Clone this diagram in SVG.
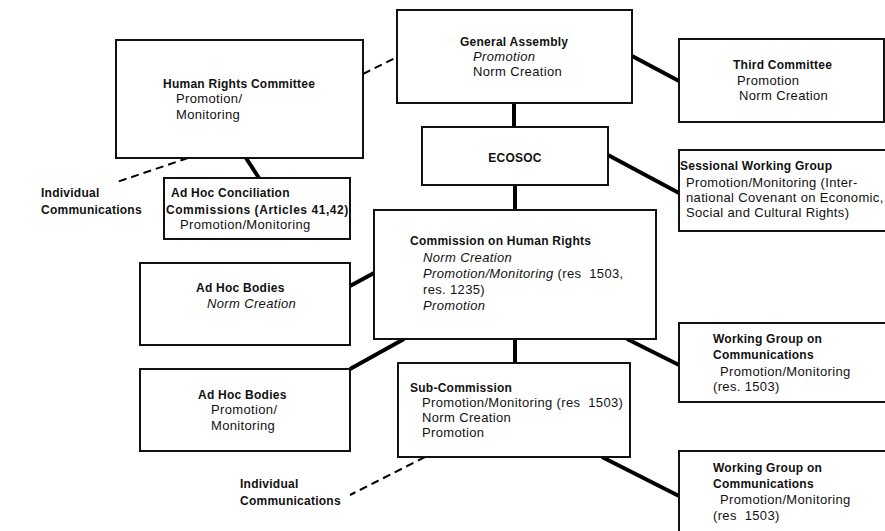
<svg xmlns="http://www.w3.org/2000/svg" width="885" height="531" viewBox="0 0 885 531">
<style>
.box{fill:#fff;stroke:#111;stroke-width:2}
.conn{stroke:#000;stroke-width:4;fill:none}
.dash{stroke:#000;stroke-width:2;stroke-dasharray:8 5;fill:none}
text{font-family:"Liberation Sans",Arial,sans-serif;font-size:13px;letter-spacing:0.35px;fill:#111;white-space:pre}
.b{font-weight:bold;font-size:12px;letter-spacing:0.25px}
.i{font-style:italic}
</style>
<rect width="885" height="531" fill="#fff"/>
<g id="connectors">
<line class="dash" x1="363" y1="74" x2="397" y2="57"/>
<line class="conn" x1="514" y1="103" x2="514" y2="127"/>
<line class="conn" x1="632" y1="56" x2="679" y2="81"/>
<line class="conn" x1="608" y1="155" x2="679" y2="193"/>
<line class="conn" x1="515" y1="185" x2="515" y2="210"/>
<line class="conn" x1="515" y1="339" x2="515" y2="363"/>
<line class="conn" x1="246" y1="158" x2="259" y2="178"/>
<line class="dash" x1="188" y1="158" x2="117" y2="182"/>
<line class="conn" x1="350" y1="286" x2="374" y2="273"/>
<line class="conn" x1="350" y1="369" x2="404" y2="339"/>
<line class="conn" x1="627" y1="339" x2="679" y2="365"/>
<line class="dash" x1="425" y1="457" x2="350" y2="495"/>
<line class="conn" x1="602" y1="457" x2="679" y2="496"/>
</g>
<g id="hrc">
<rect class="box" x="116" y="40" width="247" height="118"/>
<text class="b" x="163" y="88">Human Rights Committee</text>
<text x="176" y="103">Promotion/</text>
<text x="176" y="119">Monitoring</text>
</g>
<g id="ga">
<rect class="box" x="397" y="10" width="235" height="93"/>
<text class="b" x="460" y="46">General Assembly</text>
<text class="i" x="473" y="61">Promotion</text>
<text x="473" y="76">Norm Creation</text>
</g>
<g id="third">
<rect class="box" x="679" y="39" width="205" height="83"/>
<text class="b" x="733" y="69">Third Committee</text>
<text x="737" y="85">Promotion</text>
<text x="739" y="100">Norm Creation</text>
</g>
<g id="ecosoc">
<rect class="box" x="422" y="127" width="186" height="58"/>
<text class="b" x="515" y="162" text-anchor="middle">ECOSOC</text>
</g>
<g id="sessional">
<rect class="box" x="679" y="150" width="215" height="81"/>
<text class="b" x="680" y="170">Sessional Working Group</text>
<text x="686" y="187">Promotion/Monitoring (Inter-</text>
<text x="686" y="202">national Covenant on Economic,</text>
<text x="686" y="217">Social and Cultural Rights)</text>
</g>
<g id="indiv1">
<text class="b" x="41" y="197">Individual</text>
<text class="b" x="41" y="214">Communications</text>
</g>
<g id="conciliation">
<rect class="box" x="164" y="178" width="186" height="61"/>
<text class="b" x="171" y="197">Ad Hoc Conciliation</text>
<text class="b" x="166" y="214" style="letter-spacing:0.55px">Commissions (Articles 41,42)</text>
<text x="180" y="229">Promotion/Monitoring</text>
</g>
<g id="chr">
<rect class="box" x="374" y="210" width="282" height="129"/>
<text class="b" x="410" y="245">Commission on Human Rights</text>
<text class="i" x="423" y="262">Norm Creation</text>
<text x="423" y="278"><tspan class="i">Promotion/Monitoring</tspan> (res  1503,</text>
<text x="423" y="294">res. 1235)</text>
<text class="i" x="423" y="310">Promotion</text>
</g>
<g id="adhoc1">
<rect class="box" x="140" y="263" width="210" height="82"/>
<text class="b" x="196" y="292">Ad Hoc Bodies</text>
<text class="i" x="207" y="308">Norm Creation</text>
</g>
<g id="adhoc2">
<rect class="box" x="140" y="369" width="210" height="82"/>
<text class="b" x="198" y="399">Ad Hoc Bodies</text>
<text x="211" y="414">Promotion/</text>
<text x="211" y="430">Monitoring</text>
</g>
<g id="wg1">
<rect class="box" x="679" y="323" width="215" height="79"/>
<text class="b" x="713" y="343">Working Group on</text>
<text class="b" x="713" y="359">Communications</text>
<text x="720" y="376">Promotion/Monitoring</text>
<text x="713" y="391">(res. 1503)</text>
</g>
<g id="subcommission">
<rect class="box" x="398" y="363" width="232" height="94"/>
<text class="b" x="410" y="392">Sub-Commission</text>
<text x="422" y="407">Promotion/Monitoring (res  1503)</text>
<text x="422" y="422">Norm Creation</text>
<text x="422" y="437">Promotion</text>
</g>
<g id="indiv2">
<text class="b" x="240" y="488">Individual</text>
<text class="b" x="240" y="505">Communications</text>
</g>
<g id="wg2">
<rect class="box" x="679" y="451" width="215" height="90"/>
<text class="b" x="713" y="472">Working Group on</text>
<text class="b" x="713" y="488">Communications</text>
<text x="720" y="504">Promotion/Monitoring</text>
<text x="713" y="520">(res  1503)</text>
</g>
</svg>
